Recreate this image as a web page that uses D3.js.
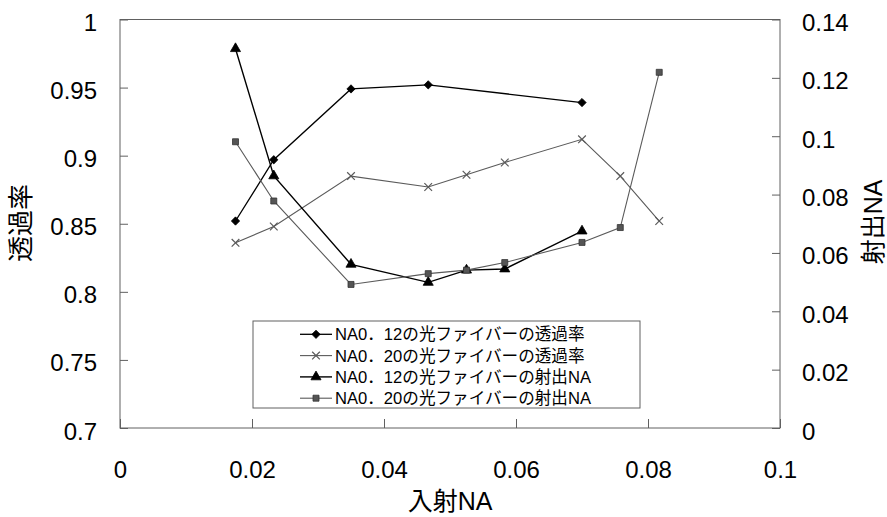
<!DOCTYPE html>
<html>
<head>
<meta charset="utf-8">
<script src="https://cdn.jsdelivr.net/npm/d3@7"></script>
<style>
  html, body { margin: 0; padding: 0; background: #fff; }
  svg { display: block; }
  text { font-family: "Liberation Sans", "Noto Sans CJK JP", sans-serif; fill: #000; }
</style>
</head>
<body>
<svg id="chart" width="887" height="517"></svg>
<script>
// 入射NA (x values)
const xA = [0.0175, 0.0233, 0.035, 0.0467, 0.07];
const xB = [0.0175, 0.0233, 0.035, 0.0467, 0.0525, 0.0583, 0.07, 0.0758, 0.0817];
const xC = [0.0175, 0.0233, 0.035, 0.0467, 0.0525, 0.0583, 0.07];

// 透過率 (left axis)
const trans012 = [0.852, 0.897, 0.949, 0.952, 0.939];
const trans020 = [0.836, 0.848, 0.885, 0.877, 0.886, 0.895, 0.912, 0.885, 0.852];
// 射出NA (right axis)
const outNA012 = [0.130, 0.0864, 0.0561, 0.0499, 0.0541, 0.0545, 0.0675];
const outNA020 = [0.0981, 0.0778, 0.0492, 0.0529, 0.0541, 0.0567, 0.0636, 0.0687, 0.1219];

const seriesNames = [
  "NA0．12の光ファイバーの透過率",
  "NA0．20の光ファイバーの透過率",
  "NA0．12の光ファイバーの射出NA",
  "NA0．20の光ファイバーの射出NA"
];

const xTicks = [0, 0.02, 0.04, 0.06, 0.08, 0.1];
const xTickLabels = ["0", "0.02", "0.04", "0.06", "0.08", "0.1"];
const yLTicks = [0.7, 0.75, 0.8, 0.85, 0.9, 0.95, 1];
const yLTickLabels = ["0.7", "0.75", "0.8", "0.85", "0.9", "0.95", "1"];
const yRTicks = [0, 0.02, 0.04, 0.06, 0.08, 0.1, 0.12, 0.14];
const yRTickLabels = ["0", "0.02", "0.04", "0.06", "0.08", "0.1", "0.12", "0.14"];

const svg = d3.select("#chart");
const L = 120, R = 780, T = 19.5, B = 428;

const x = d3.scaleLinear().domain([0, 0.1]).range([L, R]);
const yL = d3.scaleLinear().domain([0.7, 1]).range([B, T]);
const yR = d3.scaleLinear().domain([0, 0.14]).range([B, T]);

const frame = "#606060";

// plot frame
svg.append("rect")
  .attr("x", L).attr("y", T).attr("width", R - L).attr("height", B - T)
  .attr("fill", "none").attr("stroke", frame).attr("stroke-width", 1);

function styleAxis(g) {
  g.select(".domain").remove();
  g.selectAll(".tick line").attr("stroke", frame).attr("stroke-width", 1);
  g.selectAll(".tick text").attr("fill", "#000")
    .style("font-family", "'Liberation Sans', Arial, sans-serif")
    .style("font-size", "24px");
}

// left axis
svg.append("g").attr("transform", `translate(${L},0)`)
  .call(d3.axisLeft(yL).tickValues(yLTicks)
    .tickFormat((d, i) => yLTickLabels[i]).tickSizeInner(-8).tickSizeOuter(0).tickPadding(23))
  .call(styleAxis)
  .call(g => g.selectAll(".tick text").attr("dy", "0.46em"));

// right axis
svg.append("g").attr("transform", `translate(${R},0)`)
  .call(d3.axisRight(yR).tickValues(yRTicks)
    .tickFormat((d, i) => yRTickLabels[i]).tickSizeInner(-8).tickSizeOuter(0).tickPadding(22))
  .call(styleAxis)
  .call(g => g.selectAll(".tick text").attr("dy", "0.46em"));

// bottom axis
svg.append("g").attr("transform", `translate(0,${B})`)
  .call(d3.axisBottom(x).tickValues(xTicks)
    .tickFormat((d, i) => xTickLabels[i]).tickSizeInner(-9).tickSizeOuter(0).tickPadding(33))
  .call(styleAxis);

// axis titles
svg.append("text")
  .attr("transform", "translate(30,223) rotate(-90)")
  .attr("text-anchor", "middle")
  .style("font-size", "26px")
  .text("透過率");
svg.append("text")
  .attr("transform", "translate(882,222) rotate(-90)")
  .attr("text-anchor", "middle")
  .style("font-size", "25px")
  .text("射出NA");
svg.append("text")
  .attr("x", 450).attr("y", 510)
  .attr("text-anchor", "middle")
  .style("font-size", "25px")
  .text("入射NA");

// marker shapes
const sym = {
  diamond: d3.symbol().type(d3.symbolDiamond2).size(44),
  triangle: d3.symbol().type(d3.symbolTriangle).size(44),
  square: d3.symbol().type(d3.symbolSquare).size(36),
  cross: d3.symbol().type(d3.symbolTimes).size(40)
};

const series = [
  { xs: xA, ys: trans012, y: yL, line: "#000", lw: 1.3, mark: "diamond", fill: "#000", stroke: "#000" },
  { xs: xB, ys: trans020, y: yL, line: "#5a5a5a", lw: 1.1, mark: "cross", fill: "none", stroke: "#5a5a5a" },
  { xs: xC, ys: outNA012, y: yR, line: "#000", lw: 1.4, mark: "triangle", fill: "#000", stroke: "#000" },
  { xs: xB, ys: outNA020, y: yR, line: "#5a5a5a", lw: 1.1, mark: "square", fill: "#555", stroke: "#333" }
];

const lineGen = d3.line();

series.forEach(s => {
  const pts = s.xs.map((v, i) => [x(v), s.y(s.ys[i])]);
  const g = svg.append("g");
  g.append("path").attr("d", lineGen(pts))
    .attr("fill", "none").attr("stroke", s.line).attr("stroke-width", s.lw);
  g.selectAll("path.m").data(pts).join("path").attr("class", "m")
    .attr("transform", d => `translate(${d[0]},${d[1]})`)
    .attr("d", sym[s.mark])
    .attr("fill", s.fill).attr("stroke", s.stroke)
    .attr("stroke-width", s.mark === "cross" ? 1.2 : 0.8);
});

// legend
const lg = svg.append("g");
lg.append("rect")
  .attr("x", 253).attr("y", 321).attr("width", 387).attr("height", 87)
  .attr("fill", "#fff").attr("stroke", frame).attr("stroke-width", 1);
series.forEach((s, i) => {
  const cy = 334.3 + i * 21.3;
  lg.append("line").attr("x1", 300).attr("x2", 332).attr("y1", cy).attr("y2", cy)
    .attr("stroke", s.line).attr("stroke-width", s.lw);
  lg.append("path").attr("transform", `translate(316,${cy})`)
    .attr("d", sym[s.mark])
    .attr("fill", s.fill).attr("stroke", s.stroke)
    .attr("stroke-width", s.mark === "cross" ? 1.2 : 0.8);
  lg.append("text").attr("x", 335).attr("y", cy).attr("dy", "0.36em")
    .style("font-size", "16.6px")
    .text(seriesNames[i]);
});
</script>
</body>
</html>
